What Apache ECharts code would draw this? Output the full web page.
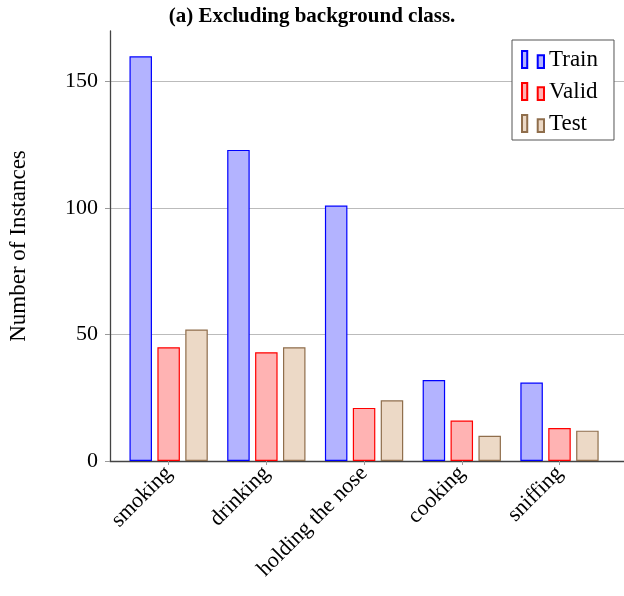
<!DOCTYPE html>
<html><head><meta charset="utf-8">
<script src="https://cdn.jsdelivr.net/npm/echarts@6/dist/echarts.min.js"></script>
<style>html,body{margin:0;padding:0;background:#fff}#c{width:624px;height:596px}</style>
</head><body><div id="c"></div>
<script>
const categories = ["smoking", "drinking", "holding the nose", "cooking", "sniffing"];
const trainValues = [160, 123, 101, 32, 31];
const validValues = [45, 43, 21, 16, 13];
const testValues = [52, 45, 24, 10, 12];
const yTicks = [0, 50, 100, 150];
const titleText = "(a) Excluding background class.";
const yName = "Number of Instances";

const FONT = "Liberation Serif";
const chart = echarts.init(document.getElementById('c'), null, {renderer: 'canvas'});
const pts = arr => arr.map((v, i) => [i, v]);
const icon = 'path://M0,0 L5,0 L5,16 L0,16 Z M15,4 L21,4 L21,16 L15,16 Z';
const mk = (name, data, fill, stroke) => ({
  name, type: 'bar', data: pts(data), barWidth: 22.5, barGap: '24%',
  itemStyle: {color: fill, borderColor: stroke, borderWidth: 1.2},
  emphasis: {disabled: true}
});
chart.setOption({
  animation: false,
  title: {text: titleText, left: 'center', top: 1,
    textStyle: {fontFamily: FONT, fontWeight: 'bold', fontSize: 21, color: '#000'}},
  legend: {
    orient: 'vertical', left: 512, top: 40, padding: [8, 16, 5, 9],
    borderColor: '#555', borderWidth: 1, backgroundColor: '#fff',
    itemWidth: 22, itemHeight: 17, itemGap: 9,
    icon: icon,
    textStyle: {fontFamily: FONT, fontSize: 23, color: '#000', lineHeight: 21},
    data: ['Train', 'Valid', 'Test']
  },
  grid: {left: 110, right: 0, top: 31, bottom: 135, containLabel: false, outerBoundsMode: 'none'},
  xAxis: {
    type: 'value', min: -0.6, max: 4.66,
    splitLine: {show: false},
    axisLine: {show: true, onZero: false, lineStyle: {color: '#444', width: 1.3}},
    axisTick: {show: true, customValues: categories.map((c, i) => i), length: 4, lineStyle: {color: '#999'}},
    axisLabel: {show: true, customValues: categories.map((c, i) => i), rotate: 45, margin: 9,
      fontFamily: FONT, fontSize: 22, color: '#000',
      formatter: v => categories[Math.round(v)] || ''}
  },
  yAxis: {
    type: 'value', min: 0, max: 170,
    name: yName, nameLocation: 'middle', nameGap: 80,
    nameTextStyle: {fontFamily: FONT, fontSize: 23, color: '#000'},
    axisLine: {show: true, onZero: false, lineStyle: {color: '#444', width: 1.3}},
    axisTick: {show: true, customValues: yTicks, length: 5, lineStyle: {color: '#999'}},
    axisLabel: {customValues: yTicks, fontFamily: FONT, fontSize: 22, color: '#000', margin: 12},
    splitLine: {show: true, lineStyle: {color: '#bbb', width: 1}}
  },
  series: [
    mk('Train', trainValues, '#b3b3ff', '#0000ff'),
    mk('Valid', validValues, '#ffb3b3', '#ff0000'),
    mk('Test', testValues, '#ecd9c6', '#8f6e4c')
  ]
});
</script></body></html>
